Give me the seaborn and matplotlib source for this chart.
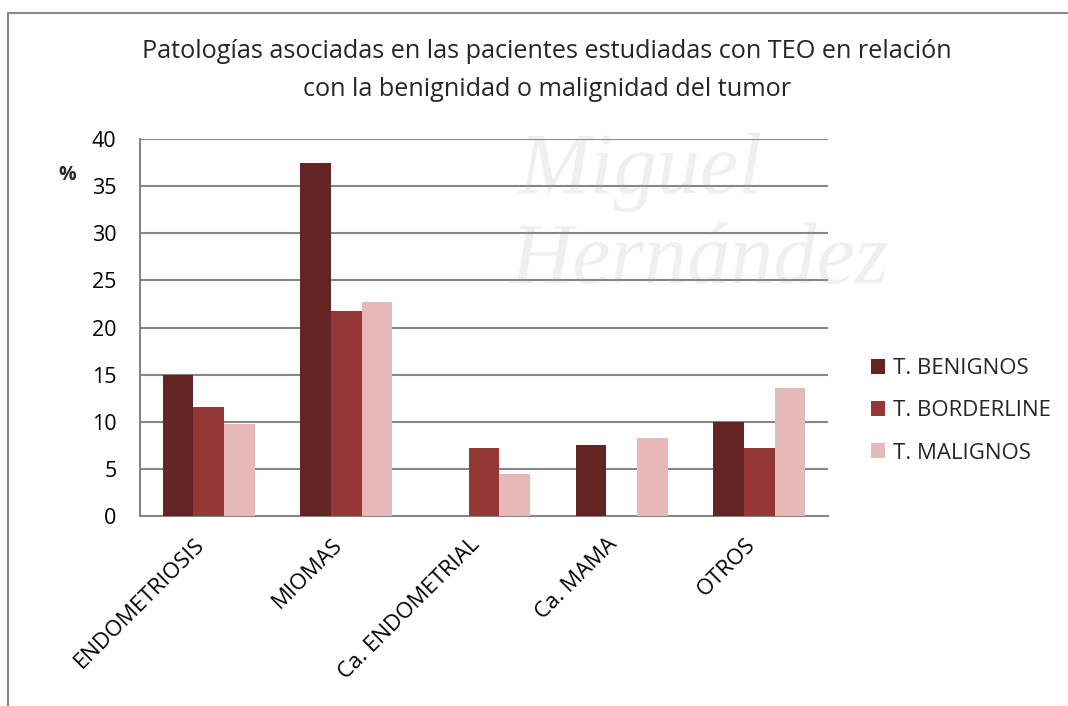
import pandas as pd
import numpy as np
import matplotlib.pyplot as plt
import seaborn as sns
from matplotlib.lines import Line2D

# Data
categorias = ['ENDOMETRIOSIS', 'MIOMAS', 'Ca. ENDOMETRIAL', 'Ca. MAMA', 'OTROS']
series = ['T. BENIGNOS', 'T. BORDERLINE', 'T. MALIGNOS']
benignos = [15.0, 37.5, 0.0, 7.5, 10.0]
borderline = [11.6, 21.7, 7.2, 0.0, 7.2]
malignos = [9.8, 22.7, 4.5, 8.3, 13.6]
colores = ['#632423', '#953735', '#E6B9B8']
yticks = [0, 5, 10, 15, 20, 25, 30, 35, 40]

df = pd.DataFrame({
    'categoria': categorias * 3,
    'serie': [series[0]] * 5 + [series[1]] * 5 + [series[2]] * 5,
    'valor': benignos + borderline + malignos,
})

sns.set_theme(style='white')
plt.rcParams['font.family'] = ['Open Sans', 'DejaVu Sans']

fig = plt.figure(figsize=(10.68, 7.06), dpi=100)
ax = fig.add_axes([140 / 1068, 1 - 516 / 706, (828 - 140) / 1068, (516 - 139) / 706])
ax.patch.set_alpha(0)

sns.barplot(data=df, x='categoria', y='valor', hue='serie', order=categorias,
            hue_order=series, palette=colores, width=0.67, saturation=1,
            linewidth=0, ax=ax, zorder=3)

grid_color = '#868686'
ax.set_ylim(0, 40)
ax.set_yticks(yticks)
ax.yaxis.grid(True, color=grid_color, linewidth=1.5, zorder=0)
ax.set_axisbelow(True)
for s in ['top', 'right']:
    ax.spines[s].set_visible(False)
for s in ['left', 'bottom']:
    ax.spines[s].set_color(grid_color)
    ax.spines[s].set_linewidth(1.5)

ax.tick_params(axis='y', length=0, pad=17, labelsize=15.5, labelcolor='black')
ax.tick_params(axis='x', length=0, pad=13, labelsize=16, labelcolor='black')
plt.setp(ax.get_xticklabels(), rotation=45, ha='right')
ax.set_xlabel('')
ax.set_ylabel('')

fig.text(67 / 1068, 1 - 175 / 706, '%', fontsize=14, fontweight='bold', ha='center', va='center')

fig.text(0.512, 1 - 52 / 706, 'Patologías asociadas en las pacientes estudiadas con TEO en relación',
         fontsize=18.2, ha='center', va='center')
fig.text(0.512, 1 - 90 / 706, 'con la benignidad o malignidad del tumor',
         fontsize=18.2, ha='center', va='center')

leg = ax.legend(loc='center left', bbox_to_anchor=(862 / 1068, 1 - 411 / 706),
                bbox_transform=fig.transFigure, frameon=False, fontsize=16,
                handlelength=0.65, handleheight=0.65, handletextpad=0.35,
                labelspacing=0.95, borderaxespad=0)

# outer chart frame
fig.add_artist(Line2D([8 / 1068, 1], [1 - 13 / 706, 1 - 13 / 706], transform=fig.transFigure,
                      color='#888888', linewidth=1.5))
fig.add_artist(Line2D([8 / 1068, 8 / 1068], [0, 1 - 13 / 706], transform=fig.transFigure,
                      color='#888888', linewidth=1.5))

# faint watermark of the source document
wm = dict(color='#a3a3a3', alpha=0.17, ha='center', va='center', zorder=10)
fig.text(640 / 1068, 1 - 172 / 706, 'Miguel', fontsize=62, style='italic',
         family='Liberation Serif', **wm)
fig.text(700 / 1068, 1 - 262 / 706, 'Hernández', fontsize=62, style='italic',
         family='Liberation Serif', **wm)

plt.savefig('out.png', dpi=100)
